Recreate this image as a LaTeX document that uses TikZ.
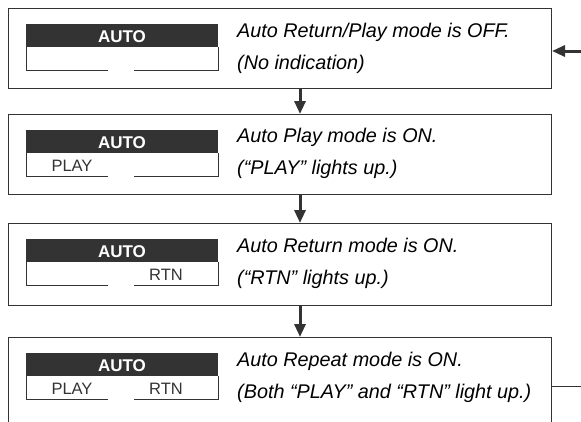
\documentclass[tikz,border=0pt]{standalone}
\usepackage{fontspec}
\setmainfont{Liberation Sans}
\usetikzlibrary{arrows.meta}
\definecolor{ink}{HTML}{333333}

\begin{document}
\begin{tikzpicture}[x=1pt, y=-1pt,
    modebox/.style={draw=ink, line width=1pt, anchor=north west, minimum width=543pt, minimum height=80pt, inner sep=0pt},
    panel/.style={ink, line width=0.8pt},
    autotxt/.style={anchor=base, inner sep=0pt, text=white, font=\bfseries\fontsize{17}{18}\selectfont},
    lamp/.style={anchor=base, inner sep=0pt, text=ink, font=\fontsize{16.5}{18}\selectfont},
    desc/.style={anchor=base west, inner sep=0pt, font=\itshape\fontsize{19.8}{22}\selectfont},
    flow/.style={ink, line width=3pt, -{Triangle[length=13pt,width=11pt]}}]
    \useasboundingbox (0,0) rectangle (581,421);
    \clip (0,0) rectangle (581,421);

    % the four modes, each with its display panel
    \foreach \n/\t/\h in {1/8/80, 2/114/80, 3/223/82, 4/337/100} {
        \node[modebox, minimum height=\h] (box\n) at (8,\t) {};
        \fill[ink] (26,\t+16) rectangle (218,\t+39);
        \node[autotxt] (auto\n) at (122,\t+34) {AUTO};
        \draw[panel] (26,\t+39) |- (108,\t+62);
        \draw[panel] (134,\t+62) -| (218,\t+39);
    }
    \node[lamp] (play2) at (72,171) {PLAY};
    \node[lamp] (rtn3) at (166,280) {RTN};
    \node[lamp] (play4) at (72,394) {PLAY};
    \node[lamp] (rtn4) at (166,394) {RTN};

    % descriptions
    \node[desc] (d1a) at (237,37) {Auto Return/Play mode is OFF.};
    \node[desc] (d1b) at (237,69) {(No indication)};
    \node[desc] (d2a) at (237,142) {Auto Play mode is ON.};
    \node[desc] (d2b) at (237,174) {(“PLAY” lights up.)};
    \node[desc] (d3a) at (237,252) {Auto Return mode is ON.};
    \node[desc] (d3b) at (237,284) {(“RTN” lights up.)};
    \node[desc] (d4a) at (237,366) {Auto Repeat mode is ON.};
    \node[desc] (d4b) at (237,398) {(Both “PLAY” and “RTN” light up.)};

    % arrows between the modes
    \coordinate (ax) at (300,0);
    \draw[flow] (box1.south -| ax) -- (box2.north -| ax);
    \draw[flow] (box2.south -| ax) -- (box3.north -| ax);
    \draw[flow] (box3.south -| ax) -- (box4.north -| ax);

    % back to the first mode
    \coordinate (ret) at (581,51);
    \coordinate (back) at (581,386);
    \draw[flow] (ret) -- (ret -| box1.east);
    \draw[ink, line width=1pt] (box4.east |- back) -- (back);
\end{tikzpicture}
\end{document}
